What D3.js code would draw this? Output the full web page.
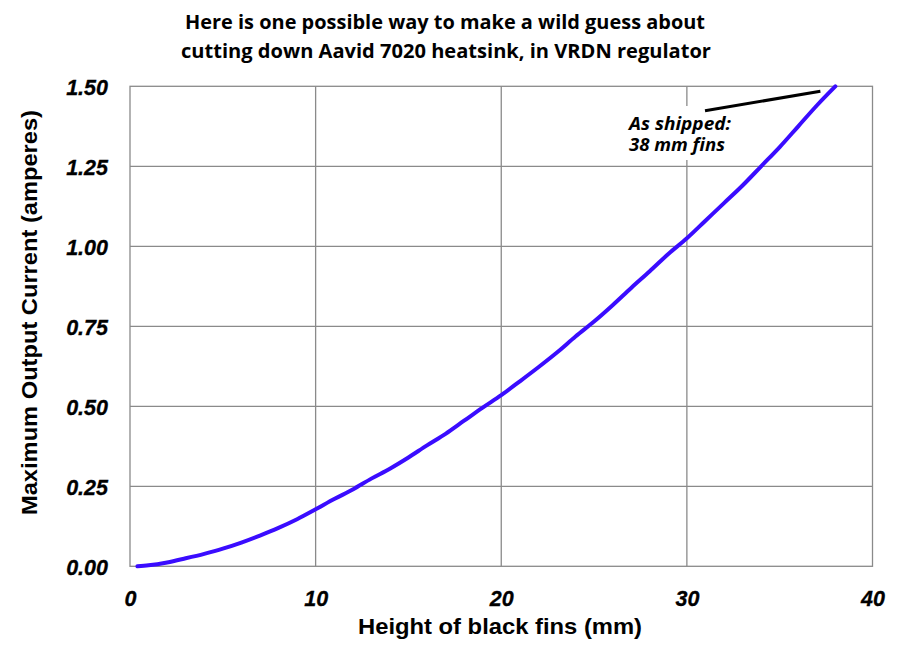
<!DOCTYPE html>
<html>
<head>
<meta charset="utf-8">
<script src="https://cdn.jsdelivr.net/npm/d3@7"></script>
<style>
  html, body { margin: 0; padding: 0; background: #fff; }
  svg { display: block; }
</style>
</head>
<body>
<svg id="chart" width="899" height="651"></svg>
<script>
// ---- data ----
const finHeights = [0.4, 1, 2, 3, 4, 5, 6, 7, 8, 9, 10, 11, 12, 13, 14, 15, 16, 17, 18, 19,
                    20, 21, 22, 23, 24, 25, 26, 27, 28, 29, 30, 31, 32, 33, 34, 35, 36, 37, 38];
const maxCurrent = [0, 0.003, 0.012, 0.025, 0.039, 0.055, 0.074, 0.096, 0.12, 0.147,
                    0.178, 0.21, 0.24, 0.274, 0.305, 0.34, 0.378, 0.414, 0.455, 0.496,
                    0.535, 0.578, 0.622, 0.668, 0.718, 0.765, 0.816, 0.87, 0.922, 0.976,
                    1.025, 1.08, 1.135, 1.19, 1.25, 1.31, 1.375, 1.44, 1.50];
const xTicks = [0, 10, 20, 30, 40];
const yTicks = [0, 0.25, 0.5, 0.75, 1.0, 1.25, 1.5];
const titleLines = ["Here is one possible way to make a wild guess about",
                    "cutting down Aavid 7020 heatsink, in VRDN regulator"];
const xTitle = "Height of black fins (mm)";
const yTitle = "Maximum Output Current (amperes)";
const noteLines = ["As shipped:", "38 mm fins"];
const notePoint = [38, 1.5];

// ---- layout ----
const svg = d3.select("#chart");
const L = 130, R = 872.5, T = 86.3, B = 566.3;
const x = d3.scaleLinear().domain([0, 40]).range([L, R]);
const y = d3.scaleLinear().domain([0, 1.5]).range([B, T]);
const grid = "#8a8a8a";
const arial = "Liberation Sans, Arial, sans-serif";

svg.append("rect").attr("width", 899).attr("height", 651).attr("fill", "#fff");

// gridlines
const g = svg.append("g");
g.selectAll(".vg").data(xTicks.slice(1, -1)).join("line")
  .attr("x1", d => x(d)).attr("x2", d => x(d)).attr("y1", T).attr("y2", B)
  .attr("stroke", grid).attr("stroke-width", 1.3);
g.selectAll(".hg").data(yTicks.slice(1, -1)).join("line")
  .attr("x1", L).attr("x2", R).attr("y1", d => y(d)).attr("y2", d => y(d))
  .attr("stroke", grid).attr("stroke-width", 1.3);
g.append("rect").attr("x", L).attr("y", T).attr("width", R - L).attr("height", B - T)
  .attr("fill", "none").attr("stroke", grid).attr("stroke-width", 1.3);

// annotation white box
svg.append("rect").attr("x", 624).attr("y", 106).attr("width", 110).attr("height", 54).attr("fill", "#fff");

// axes with d3
const xAxis = svg.append("g").attr("transform", `translate(0,${B})`)
  .call(d3.axisBottom(x).tickValues(xTicks).tickSize(0).tickPadding(21).tickFormat(d3.format("d")));
const yAxis = svg.append("g").attr("transform", `translate(${L},0)`)
  .call(d3.axisLeft(y).tickValues(yTicks).tickSize(0).tickPadding(22).tickFormat(d3.format(".2f")));
[xAxis, yAxis].forEach(a => {
  a.select(".domain").remove();
  a.selectAll("text").attr("font-family", arial)
    .attr("font-size", 21.5).attr("font-weight", "bold").attr("font-style", "italic").attr("fill", "#000")
    .attr("stroke", "#000").attr("stroke-width", 0.3);
});
yAxis.selectAll("text").attr("dy", "0.36em");
xAxis.selectAll("text").attr("dy", "0.85em");

// curve
const pts = finHeights.map((h, i) => [h, maxCurrent[i]]);
svg.append("path").datum(pts)
  .attr("d", d3.line().x(d => x(d[0])).y(d => y(d[1])).curve(d3.curveMonotoneX))
  .attr("fill", "none").attr("stroke", "#3a0cff").attr("stroke-width", 4)
  .attr("stroke-linecap", "round");

// leader line
svg.append("line").attr("x1", 705).attr("y1", 110.7)
  .attr("x2", x(notePoint[0]) - 15).attr("y2", y(notePoint[1]) + 5)
  .attr("stroke", "#000").attr("stroke-width", 3);

// note text
svg.selectAll(".note").data(noteLines).join("text")
  .attr("x", 629).attr("y", (d, i) => 130 + i * 21)
  .attr("font-family", "Open Sans, sans-serif").attr("font-size", 17)
  .attr("font-style", "italic").attr("font-weight", "bold").attr("fill", "#000")
  .attr("textLength", (d, i) => i === 0 ? 102 : 96).attr("lengthAdjust", "spacingAndGlyphs")
  .text(d => d);

// title
svg.selectAll(".title").data(titleLines).join("text")
  .attr("x", (d, i) => i === 0 ? 185 : 181).attr("y", (d, i) => 29 + i * 29)
  .attr("font-family", "Open Sans, sans-serif").attr("font-size", 19).attr("font-weight", "bold")
  .attr("fill", "#000")
  .attr("textLength", (d, i) => i === 0 ? 520 : 530).attr("lengthAdjust", "spacingAndGlyphs")
  .text(d => d);

// axis titles
svg.append("text").attr("x", 358).attr("y", 634)
  .attr("font-family", arial).attr("font-size", 22).attr("font-weight", "bold")
  .attr("textLength", 284).attr("lengthAdjust", "spacingAndGlyphs")
  .text(xTitle);
svg.append("text").attr("transform", "translate(37,515) rotate(-90)")
  .attr("font-family", arial).attr("font-size", 22).attr("font-weight", "bold")
  .attr("textLength", 405).attr("lengthAdjust", "spacingAndGlyphs")
  .text(yTitle);
</script>
</body>
</html>
